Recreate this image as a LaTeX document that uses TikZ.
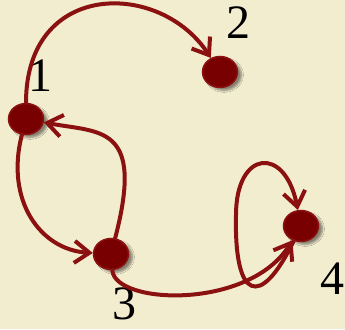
\documentclass[tikz,border=0pt]{standalone}
\usepackage{fontspec}
\setmainfont{Liberation Serif}
\usepackage{tikz}
\usetikzlibrary{arrows.meta,shapes.geometric,shadows.blur}
\definecolor{parchment}{HTML}{F3EDCF}
\definecolor{bloodred}{HTML}{780000}
\definecolor{rimred}{HTML}{8C1212}
\definecolor{inkred}{HTML}{8B1111}

\begin{document}
\begin{tikzpicture}[x=1pt, y=1pt,
  vertex/.style={ellipse, draw=rimred, line width=1.5pt, fill=bloodred,
                 minimum width=35pt, minimum height=31pt, inner sep=0pt,
                 blur shadow={shadow xshift=4pt, shadow yshift=-3pt,
                              shadow blur steps=8, shadow opacity=45}},
  lbl/.style={font=\fontsize{48}{48}\selectfont, inner sep=0pt},
  arr/.style={-{Straight Barb[length=15pt, width=22pt]}, inkred,
              line width=4pt, line cap=round}]
\fill[parchment] (0,0) rectangle (345,329);
\useasboundingbox (0,0) rectangle (345,329);
% vertices
\node[vertex] (n1) at (26,210) {};
\node[vertex] (n2) at (220,257) {};
\node[vertex] (n3) at (111,75) {};
\node[vertex] (n4) at (301,103) {};
% labels
\node[lbl] (l1) at (40,253) {1};
\node[lbl] (l2) at (238,306) {2};
\node[lbl] (l3) at (124,25) {3};
\node[lbl] (l4) at (332,50) {4};
% edges
\coordinate (loopL) at (236,114);
\draw[arr] (n1) .. controls (26,349) and (160,349) .. (n2);
\draw[arr] (n1) .. controls (5,129) and (40,79) .. (n3);
\draw[arr] (n3) .. controls (145,205) and (100,196) .. (n1);
\draw[arr] (n3) .. controls (115,24) and (250,19) .. (n4);
\draw[arr] (n4) .. controls (260,19) and (234,29) .. (loopL)
           .. controls (236,179) and (285,184) .. (n4);
\end{tikzpicture}
\end{document}
